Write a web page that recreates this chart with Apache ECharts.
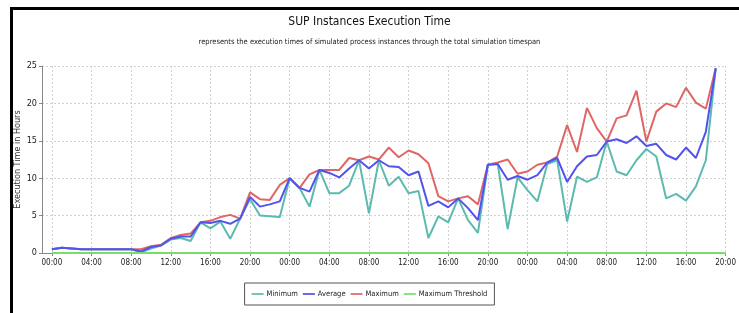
<!DOCTYPE html>
<html>
<head>
<meta charset="utf-8">
<title>SUP Instances Execution Time</title>
<script src="https://cdn.jsdelivr.net/npm/echarts@6/dist/echarts.min.js"></script>
<style>
    html, body { margin: 0; padding: 0; background: #fff; }
    #main { position: absolute; left: 0; top: 0; width: 739px; height: 313px; }
    #frame { position: absolute; left: 10px; top: 7px; width: 729px; height: 306px;
             border-left: 3px solid #000; border-top: 3px solid #000; pointer-events: none; }
</style>
</head>
<body>
<div id="main"></div>
<div id="frame"></div>
<script>
    // hourly values, 00:00 of day 1 .. 19:00 of day 3
    var minimum = [0.5, 0.7, 0.6, 0.5, 0.5, 0.5, 0.5, 0.5, 0.5, 0.1, 0.6, 1.0,
        1.8, 2.0, 1.6, 4.1, 3.3, 4.2, 1.9, 4.6, 7.2, 5.0, 4.9, 4.8,
        10.0, 8.7, 6.2, 11.1, 8.0, 8.0, 9.0, 12.4, 5.3, 12.4, 9.0, 10.2,
        8.0, 8.3, 2.0, 4.9, 4.1, 7.3, 4.4, 2.7, 11.8, 11.9, 3.2, 10.1,
        8.4, 6.9, 11.9, 12.4, 4.2, 10.2, 9.5, 10.1, 14.9, 10.9, 10.4, 12.4,
        13.9, 12.9, 7.3, 7.9, 7.0, 8.9, 12.4, 24.7];
    var average = [0.5, 0.7, 0.6, 0.5, 0.5, 0.5, 0.5, 0.5, 0.5, 0.2, 0.8, 1.0,
        1.9, 2.2, 2.2, 4.1, 4.0, 4.3, 3.9, 4.6, 7.5, 6.2, 6.5, 6.9,
        10.0, 8.7, 8.2, 11.1, 10.7, 10.1, 11.3, 12.4, 11.3, 12.4, 11.6, 11.5,
        10.4, 10.9, 6.3, 6.9, 6.1, 7.3, 6.0, 4.4, 11.8, 11.9, 9.8, 10.3,
        9.8, 10.4, 12.1, 12.7, 9.5, 11.6, 12.9, 13.1, 14.9, 15.2, 14.7, 15.6,
        14.3, 14.6, 13.1, 12.5, 14.1, 12.7, 16.2, 24.7];
    var maximum = [0.5, 0.7, 0.6, 0.5, 0.5, 0.5, 0.5, 0.5, 0.5, 0.5, 0.9, 1.1,
        2.0, 2.4, 2.6, 4.1, 4.3, 4.8, 5.1, 4.6, 8.1, 7.2, 7.1, 9.1,
        10.0, 8.7, 10.5, 11.1, 11.1, 11.1, 12.7, 12.4, 12.9, 12.5, 14.1, 12.8,
        13.7, 13.2, 12.0, 7.6, 6.9, 7.3, 7.6, 6.5, 11.8, 12.1, 12.5, 10.6,
        10.9, 11.8, 12.1, 12.9, 17.1, 13.5, 19.4, 16.7, 14.9, 18.0, 18.4, 21.7,
        14.9, 18.9, 20.0, 19.5, 22.1, 20.1, 19.3, 24.7];
    var threshold = 0;
    var hoursShown = 69;      // 00:00 day 1 .. 20:00 day 3
    var yTicks = [0, 5, 10, 15, 20, 25];

    var fontName = "'Liberation Sans Narrow', 'DejaVu Sans Condensed', sans-serif";

    // categories: one empty slot before 00:00, then every hour
    var categories = [''];
    for (var i = 0; i < hoursShown; i++) {
        var h = i % 24;
        categories.push((h < 10 ? '0' + h : '' + h) + ':00');
    }
    function pad(arr) {
        return ['-'].concat(arr);
    }
    var thresholdData = ['-'];
    for (var j = 0; j < hoursShown; j++) {
        thresholdData.push(threshold);
    }
    var everyFour = function (index) {
        return index >= 1 && (index - 1) % 4 === 0;
    };
    var lineIcon = 'path://M0,0 L14,0 L14,2 L0,2 Z';

    var myChart = echarts.init(document.getElementById('main'), null, { renderer: 'canvas' });
    var option = {
        backgroundColor: '#fff',
        animation: false,
        title: {
            text: 'SUP Instances Execution Time',
            subtext: 'represents the execution times of simulated process instances through the total simulation timespan',
            left: 'center',
            top: 11,
            itemGap: 10,
            textStyle: { fontFamily: fontName, fontSize: 12, fontWeight: 'normal', color: '#111' },
            subtextStyle: { fontFamily: fontName, fontSize: 7.5, color: '#222' }
        },
        legend: {
            bottom: 8,
            left: 'center',
            data: [
                { name: 'Minimum', icon: lineIcon },
                { name: 'Average', icon: lineIcon },
                { name: 'Maximum', icon: lineIcon },
                { name: 'Maximum Threshold', icon: lineIcon }
            ],
            itemWidth: 12,
            itemHeight: 2,
            itemGap: 5,
            padding: [7, 7],
            borderColor: '#555',
            borderWidth: 1,
            textStyle: { fontFamily: fontName, fontSize: 7.5, color: '#222', padding: [0, 0, 0, -2] }
        },
        grid: { left: 42, right: 12, top: 66, bottom: 60 },
        xAxis: {
            type: 'category',
            boundaryGap: false,
            data: categories,
            axisLine: { lineStyle: { color: '#888' } },
            axisTick: { interval: everyFour, length: 3, lineStyle: { color: '#888' } },
            axisLabel: { interval: everyFour, fontFamily: fontName, fontSize: 8, color: '#222', margin: 6 },
            splitLine: { show: true, interval: everyFour, lineStyle: { color: '#d0d0d0', type: [2, 2] } }
        },
        yAxis: {
            type: 'value',
            min: yTicks[0],
            max: yTicks[yTicks.length - 1],
            interval: 5,
            name: 'Execution Time in Hours',
            nameLocation: 'middle',
            nameGap: 20,
            nameMoveOverlap: false,
            nameTextStyle: { fontFamily: fontName, fontSize: 9, color: '#333' },
            axisLine: { show: true, lineStyle: { color: '#888' } },
            axisTick: { show: true, length: 3, lineStyle: { color: '#888' } },
            axisLabel: { fontFamily: fontName, fontSize: 9, color: '#222', margin: 5 },
            splitLine: { show: true, lineStyle: { color: '#d0d0d0', type: [2, 2] } }
        },
        series: [
            { name: 'Minimum', type: 'line', data: pad(minimum), symbol: 'none',
              lineStyle: { width: 2, color: '#5cbab0' }, itemStyle: { color: '#5cbab0' } },
            { name: 'Average', type: 'line', data: pad(average), symbol: 'none',
              lineStyle: { width: 2, color: '#5252ee' }, itemStyle: { color: '#5252ee' } },
            { name: 'Maximum', type: 'line', data: pad(maximum), symbol: 'none', z: 1,
              lineStyle: { width: 2, color: '#e06666' }, itemStyle: { color: '#e06666' } },
            { name: 'Maximum Threshold', type: 'line', data: thresholdData, symbol: 'none',
              lineStyle: { width: 2, color: '#7bdc6e' }, itemStyle: { color: '#7bdc6e' } }
        ]
    };
    myChart.setOption(option);
</script>
</body>
</html>
